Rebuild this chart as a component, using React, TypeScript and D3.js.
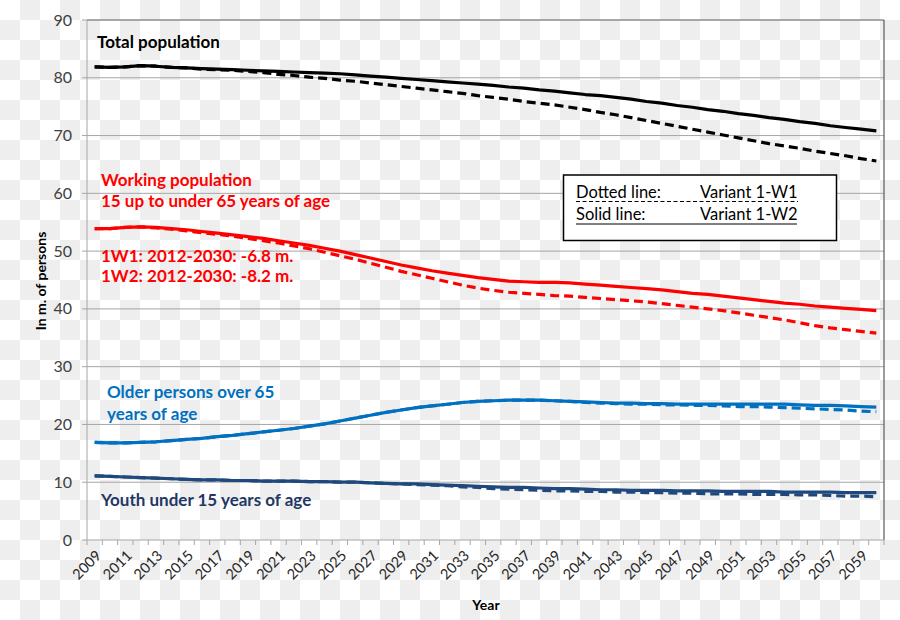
import * as d3 from 'd3';

// years on the category axis
const years: number[] = d3.range(2009, 2061);

// total population, solid = variant 1-W2, dashed = variant 1-W1
const totalSolid = [81.9, 81.8, 81.9, 82.1, 82.0, 81.8, 81.7, 81.6, 81.5, 81.4, 81.3, 81.2, 81.1, 81.0, 80.9, 80.8, 80.7, 80.5, 80.3, 80.1, 79.9, 79.7, 79.5, 79.3, 79.1, 78.9, 78.7, 78.4, 78.2, 77.9, 77.7, 77.4, 77.1, 76.9, 76.6, 76.3, 75.9, 75.6, 75.2, 74.9, 74.5, 74.2, 73.8, 73.5, 73.1, 72.8, 72.4, 72.1, 71.7, 71.4, 71.1, 70.8];
const totalDashed = [81.9, 81.8, 81.9, 82.1, 82.0, 81.8, 81.7, 81.5, 81.4, 81.3, 81.1, 80.9, 80.6, 80.4, 80.1, 79.9, 79.6, 79.4, 79.1, 78.8, 78.5, 78.2, 77.9, 77.6, 77.3, 76.9, 76.6, 76.3, 75.9, 75.6, 75.3, 74.9, 74.5, 74.0, 73.6, 73.1, 72.6, 72.1, 71.6, 71.1, 70.6, 70.1, 69.6, 69.1, 68.6, 68.2, 67.8, 67.3, 66.9, 66.5, 66.0, 65.6];

const workingSolid = [53.9, 53.9, 54.1, 54.2, 54.1, 53.9, 53.7, 53.4, 53.1, 52.8, 52.5, 52.2, 51.8, 51.4, 51.0, 50.5, 50.0, 49.4, 48.8, 48.2, 47.6, 47.1, 46.6, 46.2, 45.8, 45.4, 45.1, 44.8, 44.7, 44.6, 44.6, 44.5, 44.3, 44.1, 43.9, 43.7, 43.5, 43.3, 43.0, 42.7, 42.5, 42.2, 41.9, 41.6, 41.3, 41.0, 40.8, 40.5, 40.3, 40.1, 39.9, 39.7];
const workingDashed = [53.9, 53.9, 54.1, 54.2, 54.0, 53.8, 53.5, 53.2, 52.9, 52.6, 52.2, 51.8, 51.4, 50.9, 50.4, 49.8, 49.2, 48.6, 47.9, 47.2, 46.5, 45.9, 45.3, 44.7, 44.1, 43.6, 43.2, 42.9, 42.7, 42.5, 42.3, 42.2, 42.0, 41.8, 41.6, 41.4, 41.2, 40.9, 40.6, 40.3, 40.0, 39.7, 39.3, 38.9, 38.5, 38.1, 37.6, 37.1, 36.7, 36.4, 36.1, 35.8];

const olderSolid = [16.9, 16.8, 16.8, 16.9, 17.0, 17.2, 17.4, 17.6, 17.9, 18.1, 18.4, 18.7, 19.0, 19.3, 19.7, 20.1, 20.6, 21.1, 21.6, 22.1, 22.5, 22.9, 23.2, 23.5, 23.8, 24.0, 24.1, 24.2, 24.2, 24.2, 24.1, 24.0, 23.9, 23.8, 23.7, 23.7, 23.6, 23.6, 23.5, 23.5, 23.5, 23.5, 23.5, 23.5, 23.5, 23.5, 23.4, 23.3, 23.3, 23.2, 23.1, 23.0];
const olderDashed = [16.9, 16.8, 16.8, 16.9, 17.0, 17.2, 17.4, 17.6, 17.9, 18.1, 18.4, 18.7, 19.0, 19.3, 19.7, 20.1, 20.6, 21.1, 21.6, 22.1, 22.5, 22.9, 23.2, 23.5, 23.8, 24.0, 24.1, 24.2, 24.2, 24.2, 24.1, 24.0, 23.8, 23.7, 23.6, 23.5, 23.5, 23.4, 23.4, 23.3, 23.3, 23.2, 23.1, 23.1, 23.0, 22.9, 22.8, 22.7, 22.6, 22.5, 22.3, 22.2];

const youthSolid = [11.1, 11.0, 10.9, 10.8, 10.7, 10.6, 10.5, 10.4, 10.4, 10.3, 10.3, 10.2, 10.2, 10.2, 10.1, 10.1, 10.0, 10.0, 9.9, 9.8, 9.7, 9.7, 9.6, 9.5, 9.4, 9.3, 9.2, 9.1, 9.1, 9.0, 8.9, 8.9, 8.8, 8.7, 8.7, 8.6, 8.6, 8.6, 8.5, 8.5, 8.5, 8.4, 8.4, 8.4, 8.4, 8.3, 8.3, 8.3, 8.3, 8.2, 8.2, 8.2];
const youthDashed = [11.1, 11.0, 10.9, 10.8, 10.7, 10.6, 10.5, 10.4, 10.4, 10.3, 10.3, 10.2, 10.2, 10.2, 10.1, 10.1, 10.0, 10.0, 9.9, 9.8, 9.7, 9.6, 9.5, 9.4, 9.2, 9.1, 8.9, 8.8, 8.7, 8.6, 8.5, 8.5, 8.4, 8.4, 8.3, 8.3, 8.2, 8.2, 8.1, 8.1, 8.0, 8.0, 8.0, 7.9, 7.9, 7.9, 7.8, 7.8, 7.7, 7.6, 7.6, 7.5];

const yTicks = [0, 10, 20, 30, 40, 50, 60, 70, 80, 90];
const xLabels = years.filter((y) => (y - 2009) % 2 === 0);

const series = [
  { values: totalSolid, color: '#000000', dashed: false },
  { values: totalDashed, color: '#000000', dashed: true },
  { values: workingSolid, color: '#ff0000', dashed: false },
  { values: workingDashed, color: '#ff0000', dashed: true },
  { values: olderSolid, color: '#0070c0', dashed: false },
  { values: olderDashed, color: '#0070c0', dashed: true },
  { values: youthSolid, color: '#1f497d', dashed: false },
  { values: youthDashed, color: '#1f497d', dashed: true },
];

const width = 900;
const height = 620;
const margin = { top: 20, right: 16, bottom: 80, left: 87 };
const font = 'Lato, "Open Sans", sans-serif';

export default function App() {
  const x = d3.scaleBand<number>()
    .domain(years)
    .range([margin.left, width - margin.right])
    .padding(0);
  const bw = x.bandwidth();
  const cx = (yr: number) => (x(yr) as number) + bw / 2;

  const y = d3.scaleLinear()
    .domain([0, 90])
    .range([height - margin.bottom, margin.top]);

  const line = d3.line<number>()
    .x((_, i) => cx(years[i]))
    .y((d) => y(d));

  const left = margin.left;
  const right = width - margin.right;
  const bottom = y(0);
  const top = y(90);

  return (
    <div style={{ position: 'absolute', left: 0, top: 0 }}>
      <svg width={width} height={height} style={{ display: 'block', fontFamily: font }}>
        <defs>
          <pattern id="checker" width="40" height="40" patternUnits="userSpaceOnUse">
            <rect width="40" height="40" fill="#ffffff" />
            <rect x="20" y="0" width="20" height="20" fill="#eeeeee" />
            <rect x="0" y="20" width="20" height="20" fill="#eeeeee" />
          </pattern>
        </defs>
        <rect width={width} height={height} fill="url(#checker)" />

        {/* gridlines */}
        {yTicks.slice(1, -1).map((t) => (
          <line key={t} x1={left} x2={right} y1={y(t)} y2={y(t)} stroke="#a6a6a6" strokeWidth={1} />
        ))}

        {/* plot frame */}
        <line x1={left} x2={right} y1={top} y2={top} stroke="#595959" strokeWidth={1.2} />
        <line x1={right} x2={right} y1={top} y2={bottom} stroke="#595959" strokeWidth={1.2} />
        <line x1={left} x2={left} y1={top} y2={bottom} stroke="#a6a6a6" strokeWidth={1} />
        <line x1={left} x2={right} y1={bottom} y2={bottom} stroke="#a6a6a6" strokeWidth={1} />

        {/* y ticks */}
        {yTicks.map((t) => (
          <g key={t}>
            <line x1={left - 5} x2={left} y1={y(t)} y2={y(t)} stroke="#a6a6a6" />
            <text x={left - 15} y={y(t)} dy="0.35em" textAnchor="end" fontSize={16} fill="#404040">{t}</text>
          </g>
        ))}

        {/* x ticks at category boundaries */}
        {years.concat([2061]).map((yr, i) => {
          const xx = left + i * bw;
          return <line key={yr} x1={xx} x2={xx} y1={bottom} y2={bottom + 5} stroke="#a6a6a6" />;
        })}
        {xLabels.map((yr) => (
          <text
            key={yr}
            transform={`translate(${cx(yr) + 4},${bottom + 13}) rotate(-45)`}
            textAnchor="end"
            dy="0.35em"
            fontSize={14.5}
            fill="#262626"
          >
            {yr}
          </text>
        ))}

        {/* series */}
        {series.map((s, i) => (
          <path
            key={i}
            d={line(s.values) as string}
            fill="none"
            stroke={s.color}
            strokeWidth={3.2}
            strokeDasharray={s.dashed ? '9,5' : undefined}
            strokeLinejoin="round"
          />
        ))}

        {/* annotations */}
        <text x={97} y={48} fontSize={17} fontWeight="bold" fill="#000">Total population</text>
        <text x={101} y={186} fontSize={17} fontWeight="bold" fill="#ff0000">Working population</text>
        <text x={101} y={207} fontSize={17} fontWeight="bold" fill="#ff0000">15 up to under 65 years of age</text>
        <text x={101} y={262} fontSize={17} fontWeight="bold" fill="#ff0000">1W1: 2012-2030: -6.8 m.</text>
        <text x={101} y={282} fontSize={17} fontWeight="bold" fill="#ff0000">1W2: 2012-2030: -8.2 m.</text>
        <text x={107} y={398} fontSize={17} fontWeight="bold" fill="#0070c0">Older persons over 65</text>
        <text x={107} y={420} fontSize={17} fontWeight="bold" fill="#0070c0">years of age</text>
        <text x={101} y={506} fontSize={17} fontWeight="bold" fill="#1f3864">Youth under 15 years of age</text>

        {/* legend box */}
        <rect x={563.5} y={175} width={273} height={65.5} fill="#ffffff" stroke="#000" strokeWidth={1.5} />
        <text x={576} y={198} fontSize={16.5} fill="#000">Dotted line:</text>
        <text x={700} y={198} fontSize={16.5} fill="#000">Variant 1-W1</text>
        <line x1={576} x2={798} y1={201.5} y2={201.5} stroke="#000" strokeWidth={1} strokeDasharray="4,2.5" />
        <text x={576} y={220} fontSize={16.5} fill="#000">Solid line:</text>
        <text x={700} y={220} fontSize={16.5} fill="#000">Variant 1-W2</text>
        <line x1={576} x2={797} y1={224} y2={224} stroke="#000" strokeWidth={1} />

        {/* axis titles */}
        <text transform={`translate(46,281) rotate(-90)`} textAnchor="middle" fontSize={14} fontWeight="bold" fill="#000">In m. of persons</text>
        <text x={486} y={610} textAnchor="middle" fontSize={14} fontWeight="bold" fill="#000">Year</text>
      </svg>
    </div>
  );
}
